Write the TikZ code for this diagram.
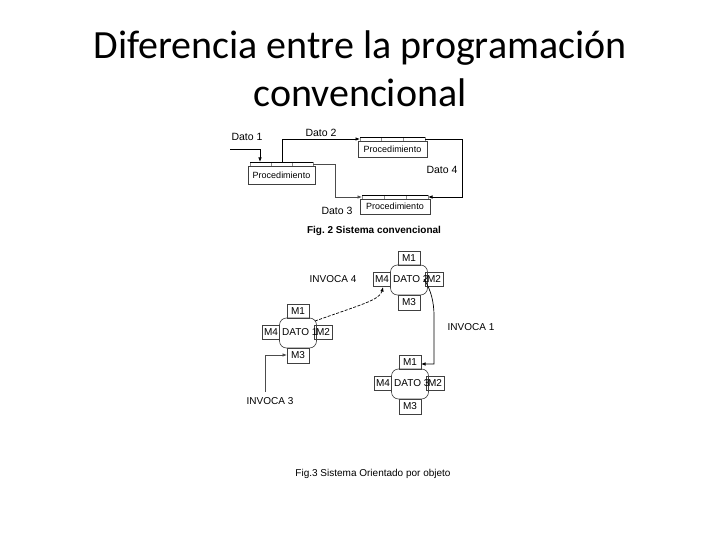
\documentclass[tikz,border=0pt]{standalone}
\usepackage{fontspec}
\setmainfont{Carlito}
\newfontfamily\arialf{Liberation Sans}
\usetikzlibrary{arrows.meta}
\frenchspacing
\tikzset{
  lbl/.style={font=\arialf\fontsize{10}{12}\selectfont, inner sep=0pt},
  dlbl/.style={font=\arialf\fontsize{10.5}{12}\selectfont, inner sep=0pt},
  plbl/.style={font=\arialf\fontsize{9}{11}\selectfont, inner sep=0pt},
  conn/.style={line width=0.7pt, -{Latex[length=4.5pt,width=3.5pt]}},
  thinbox/.style={draw=black!75, line width=0.6pt},
  cell/.style={draw=black!45, line width=0.5pt},
}
\newcommand{\procbox}[5]{% name, x0, y0 (strip top), x1, y1 (box bottom)
  \draw[cell] (#2,#3) rectangle (#4,#3+4.5);
  \draw[cell] ({#2+(#4-#2)/3},#3) -- ({#2+(#4-#2)/3},#3+4.5);
  \draw[cell] ({#2+2*(#4-#2)/3},#3) -- ({#2+2*(#4-#2)/3},#3+4.5);
  \draw[black, line width=0.8pt] (#2,#3) -- (#4,#3);
  \draw[thinbox] (#2-2,#3+4.5) rectangle (#4+2,#5);
  \node[plbl] (#1) at ({(#2+#4)/2},{(#3+4.5+#5)/2}) {Procedimiento};
}
\newcommand{\datocluster}[4]{% name, cx, cy, number
  \draw[thinbox, rounded corners=7pt] (#2-18.5,#3-15) rectangle (#2+18.5,#3+15);
  \draw[thinbox] (#2-11,#3-29) rectangle (#2+11,#3-15);
  \draw[thinbox] (#2-11,#3+15) rectangle (#2+11,#3+30);
  \draw[thinbox] (#2-36,#3-8) rectangle (#2-18.5,#3+6);
  \draw[thinbox] (#2+16,#3-8) rectangle (#2+34,#3+6);
  \node[lbl] (#1m1) at (#2,#3-22) {M1};
  \node[lbl] (#1m3) at (#2,#3+22.5) {M3};
  \node[lbl] (#1m4) at (#2-27,#3-1) {M4};
  \node[lbl] (#1m2) at (#2+25,#3-1) {M2};
  \node[lbl, anchor=west] (#1d) at (#2-16,#3-1) {DATO #4};
}
\begin{document}
\begin{tikzpicture}[x=1pt,y=-1pt]
\useasboundingbox (0,0) rectangle (720,540);
\fill[white] (0,0) rectangle (720,540);
% title
\node[font=\fontsize{40}{48}\selectfont, align=center, inner sep=0pt] (title) at (360,69)
  {Diferencia entre la programación\\convencional};

% ---------- Fig. 2 ----------
\procbox{p1}{250}{162}{313}{184}
\procbox{p2}{360}{137}{425}{157}
\procbox{p3}{362}{195}{428}{214}

\node[dlbl] (d1) at (247,137) {Dato 1};
\node[dlbl] (d2) at (321,133) {Dato 2};
\node[dlbl] (d4) at (442,170) {Dato 4};
\node[dlbl] (d3) at (337,211) {Dato 3};

\coordinate (d1s) at (230,149);
\coordinate (d1c) at (260,149);
\coordinate (d1e) at (260,162);
\draw[conn] (d1s) -- (d1c) -- (d1e);

\coordinate (d2s) at (282,162);
\coordinate (d2a) at (282,139);
\coordinate (d2e) at (360,139);
\draw[conn] (d2s) -- (d2a) -- (d2e);

\coordinate (d4s) at (425,139);
\coordinate (d4a) at (462,139);
\coordinate (d4b) at (462,197);
\coordinate (d4e) at (428,197);
\draw[conn] (d4s) -- (d4a) -- (d4b) -- (d4e);

\coordinate (d3s) at (313,164);
\coordinate (d3a) at (335,164);
\coordinate (d3b) at (335,197);
\coordinate (d3e) at (362,197);
\draw[conn, draw=black!70] (d3s) -- (d3a) -- (d3b) -- (d3e);

\node[font=\arialf\bfseries\fontsize{10}{12}\selectfont, inner sep=0pt] (fig2) at (374,231) {Fig. 2 Sistema convencional};

% ---------- Fig. 3 ----------
\datocluster{ct}{409}{280}{2}
\datocluster{cl}{298}{333}{1}
\datocluster{cb}{410}{384}{3}

\node[lbl] (inv4) at (333,279) {INVOCA 4};
\node[lbl] (inv1) at (471,327) {INVOCA 1};
\node[lbl] (inv3) at (270,401) {INVOCA 3};

% INVOCA 4
\coordinate (i4s) at (315,321);
\coordinate (i4e) at (383,287);
\draw[conn, dashed, dash pattern=on 3pt off 1.5pt] (i4s) .. controls (360,305) and (380,300) .. (i4e);

% INVOCA 1
\coordinate (i1s) at (424,279);
\coordinate (i1a) at (434,316);
\coordinate (i1b) at (434,364);
\coordinate (i1e) at (421,364);
\draw[conn] (i1s) .. controls (431,290) and (434,302) .. (i1a) -- (i1b) -- (i1e);

% INVOCA 3
\coordinate (i3s) at (265,392);
\coordinate (i3a) at (265,355);
\coordinate (i3e) at (287,355);
\draw[conn, draw=black!70] (i3s) -- (i3a) -- (i3e);

\node[font=\arialf\fontsize{10}{12}\selectfont, inner sep=0pt] (fig3) at (373,474) {Fig.3 Sistema Orientado por objeto};
\end{tikzpicture}
\end{document}
